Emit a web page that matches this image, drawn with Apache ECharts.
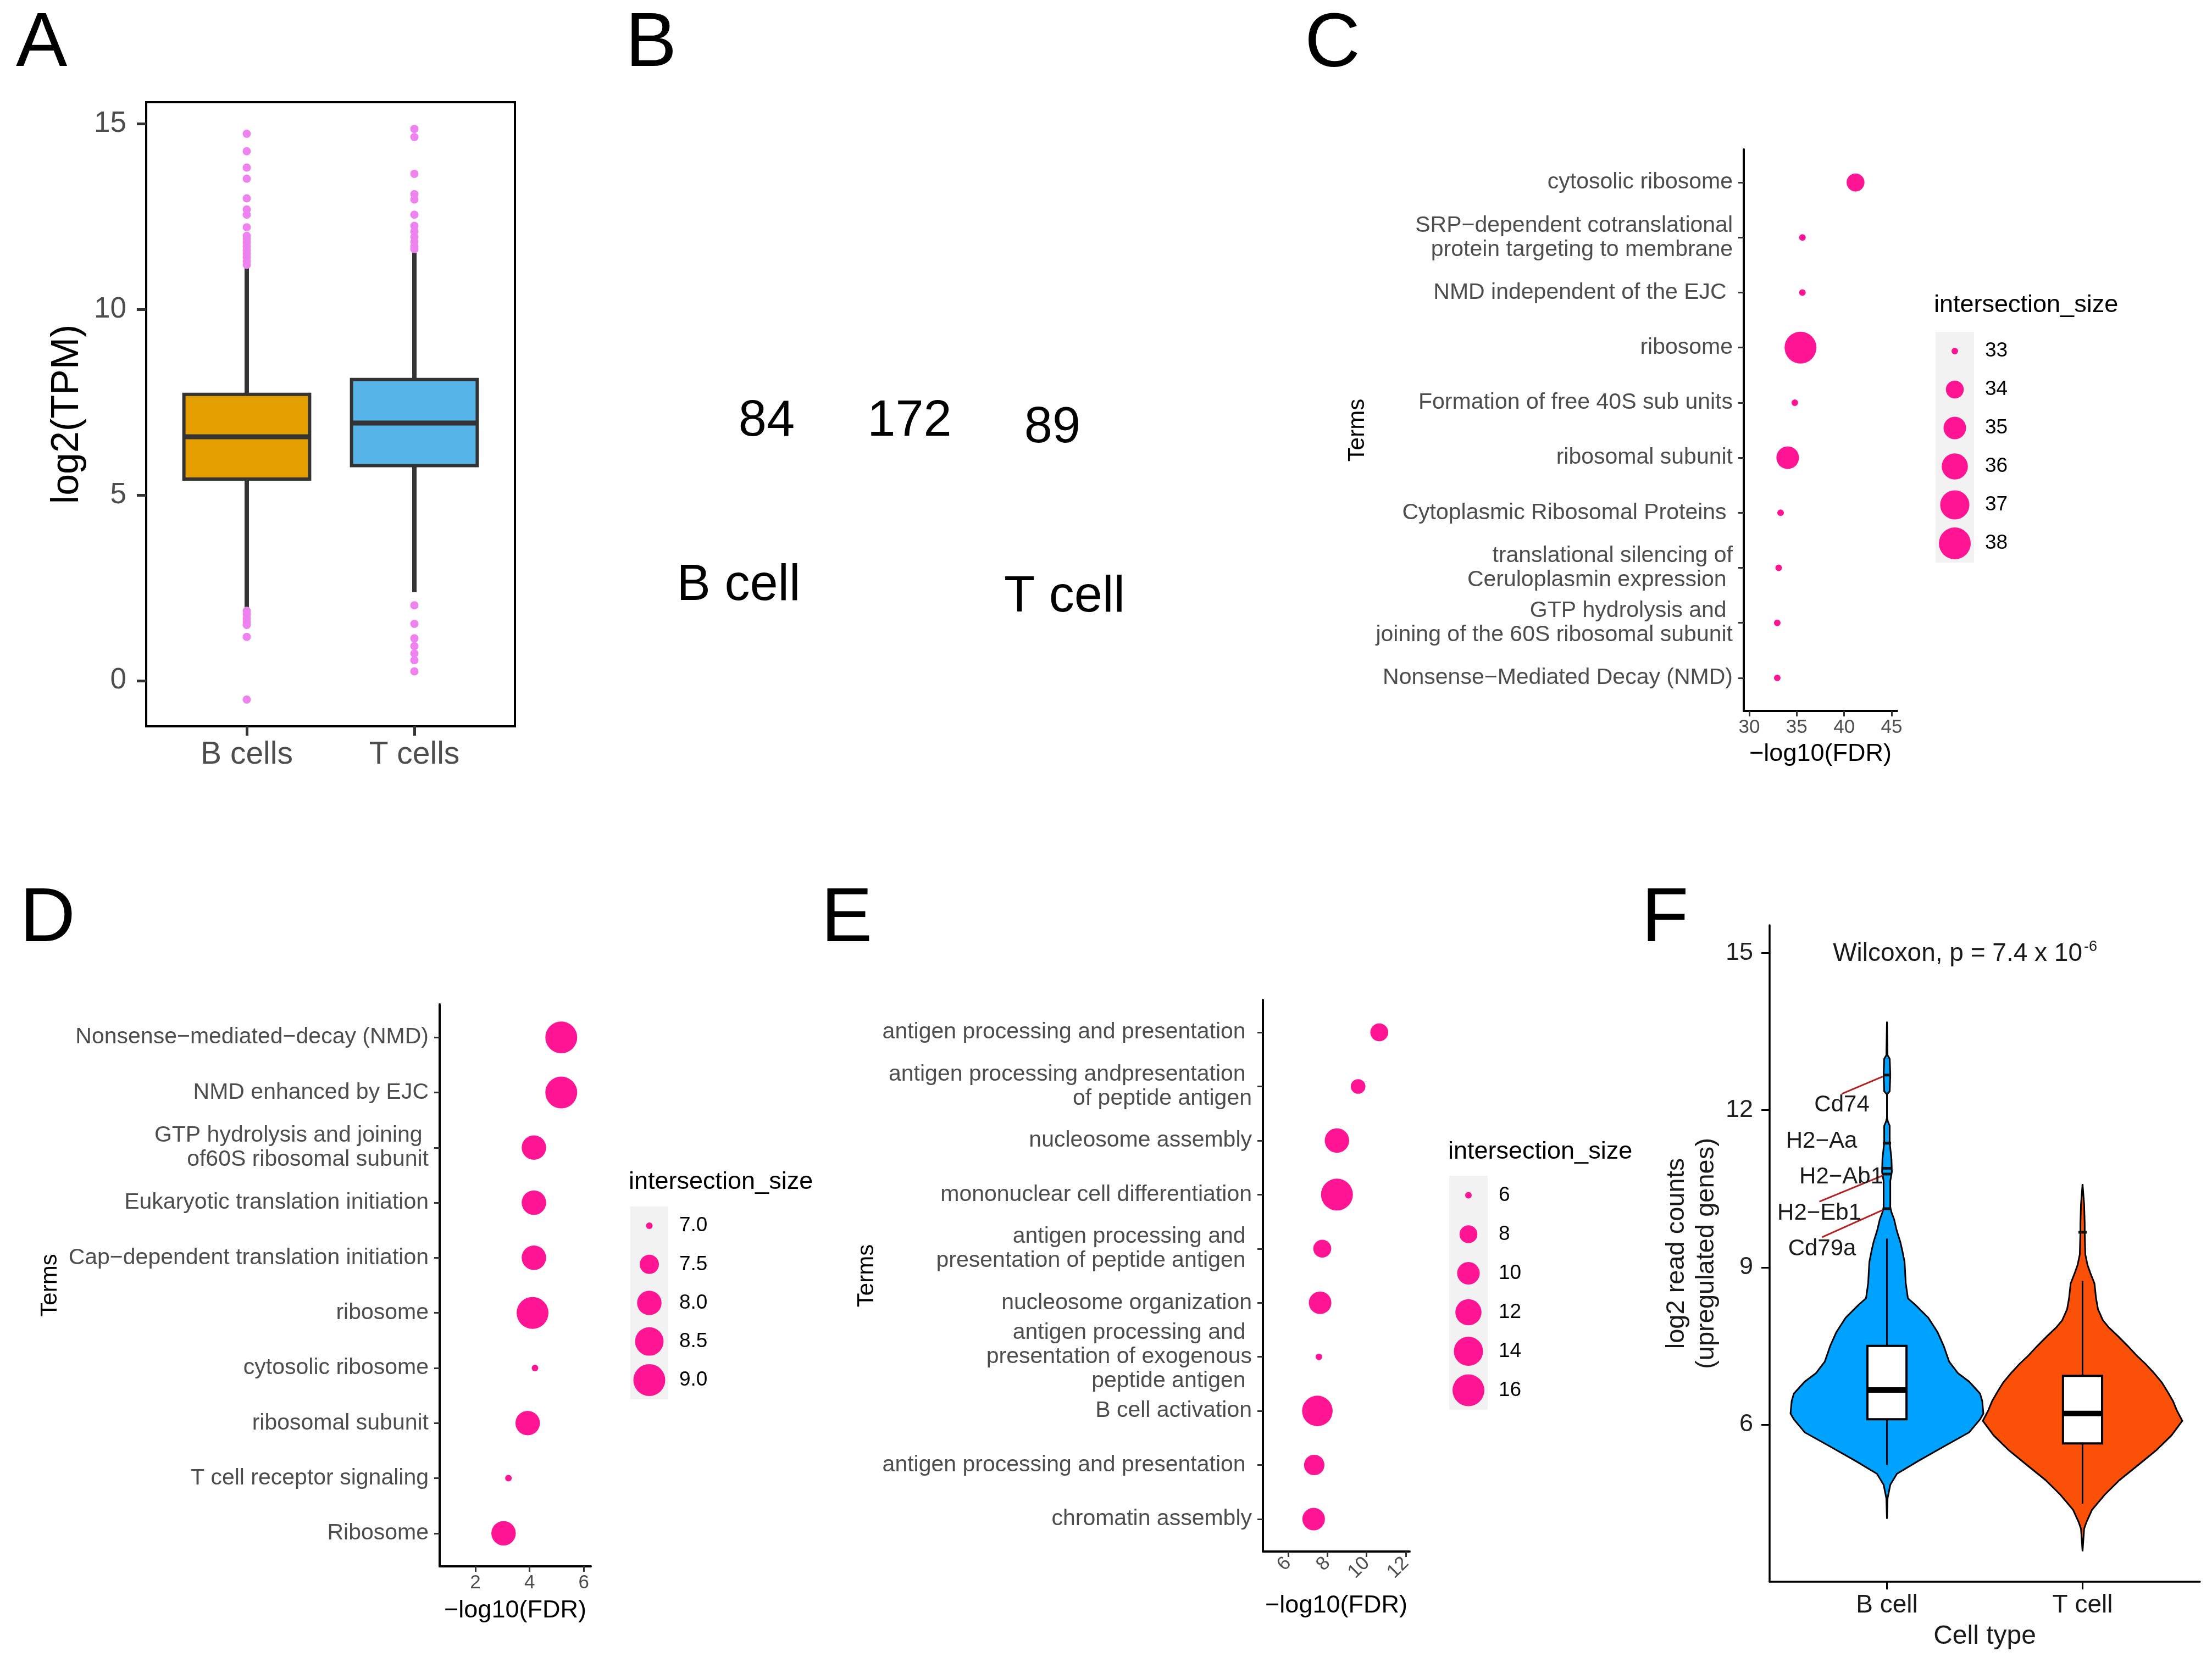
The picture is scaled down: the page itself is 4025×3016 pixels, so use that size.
<!DOCTYPE html>
<html>
<head>
<meta charset="utf-8">
<script src="https://cdn.jsdelivr.net/npm/echarts@6/dist/echarts.min.js"></script>
<style>html,body{margin:0;padding:0;background:#fff}#main{width:4025px;height:3016px}</style>
</head>
<body>
<div id="main"></div>
<script>
// ---------------- DATA ----------------
// Panel A: boxplot of log2(TPM)  [lower whisker, Q1, median, Q3, upper whisker]
const catsA = ['B cells', 'T cells'];
const boxA_B = [1.97, 5.43, 6.57, 7.71, 11.11];
const boxA_T = [2.38, 5.79, 6.94, 8.11, 11.59];
const outA_B = [14.73, 14.26, 13.82, 13.52, 12.99, 12.69, 12.55, 12.21, 11.98, 11.90, 11.80, 11.70, 11.60, 11.50, 11.40, 11.30, 11.20, 1.88, 1.78, 1.68, 1.58, 1.50, 1.18, -0.51];
const outA_T = [14.86, 14.64, 13.65, 13.10, 12.96, 12.55, 12.25, 12.10, 11.95, 11.82, 11.70, 11.62, 2.03, 1.53, 1.14, 0.93, 0.73, 0.55, 0.25];
const ticksA = [0, 5, 10, 15];

// Panel B: Venn counts
const vennRegions = ['B cell only', 'shared', 'T cell only'];
const vennCounts = [84, 172, 89];
const vennSets = ['B cell', 'T cell'];

// Panel C
const termsC = ['cytosolic ribosome', 'SRP\u2212dependent cotranslational\nprotein targeting to membrane', 'NMD independent of the EJC ', 'ribosome', 'Formation of free 40S sub units', 'ribosomal subunit', 'Cytoplasmic Ribosomal Proteins ', 'translational silencing of\nCeruloplasmin expression ', 'GTP hydrolysis and \njoining of the 60S ribosomal subunit', 'Nonsense\u2212Mediated Decay (NMD)'];
const fdrC = [41.2, 35.6, 35.6, 35.4, 34.8, 34.05, 33.3, 33.1, 32.95, 32.95];
const sizeC = [34, 33, 33, 38, 33, 35, 33, 33, 33, 33];
const keysC = [33, 34, 35, 36, 37, 38];
const ticksC = [30, 35, 40, 45];

// Panel D
const termsD = ['Nonsense\u2212mediated\u2212decay (NMD)', 'NMD enhanced by EJC', 'GTP hydrolysis and joining \nof60S ribosomal subunit', 'Eukaryotic translation initiation', 'Cap\u2212dependent translation initiation', 'ribosome', 'cytosolic ribosome', 'ribosomal subunit', 'T cell receptor signaling', 'Ribosome'];
const fdrD = [5.17, 5.17, 4.16, 4.16, 4.16, 4.11, 4.2, 3.93, 3.22, 3.04];
const sizeD = [9, 9, 8, 8, 8, 9, 7, 8, 7, 8];
const keysD = [7.0, 7.5, 8.0, 8.5, 9.0];
const ticksD = [2, 4, 6];

// Panel E
const termsE = ['antigen processing and presentation ', 'antigen processing andpresentation \nof peptide antigen', 'nucleosome assembly', 'mononuclear cell differentiation', 'antigen processing and \npresentation of peptide antigen ', 'nucleosome organization', 'antigen processing and \npresentation of exogenous\npeptide antigen ', 'B cell activation', 'antigen processing and presentation ', 'chromatin assembly'];
const fdrE = [10.65, 9.57, 8.49, 8.49, 7.74, 7.63, 7.57, 7.49, 7.33, 7.30];
const sizeE = [8, 7, 11, 16, 8, 10, 6, 15, 9, 10];
const keysE = [6, 8, 10, 12, 14, 16];
const ticksE = [6, 8, 10, 12];

// Panel F: violin profiles [value, half width in category units]
const catsF = ['B cell', 'T cell'];
const violinB = [[4.20,0],[4.59,0.003],[4.85,0.017],[5.06,0.051],[5.30,0.158],[5.58,0.290],[5.85,0.420],[6.10,0.476],[6.21,0.493],[6.45,0.487],[6.59,0.476],[6.82,0.420],[6.98,0.363],[7.20,0.318],[7.50,0.290],[7.76,0.259],[8.04,0.211],[8.28,0.146],[8.41,0.107],[8.70,0.096],[9.10,0.090],[9.31,0.079],[9.49,0.068],[9.63,0.056],[9.73,0.048],[9.91,0.037],[10.05,0.023],[10.15,0.017],[10.65,0.017],[10.82,0.025],[11.07,0.023],[11.38,0.014],[11.70,0.014],[11.77,0.006],[11.85,0],[12.30,0],[12.36,0.014],[12.67,0.017],[12.98,0.014],[13.05,0.003],[13.69,0]];
const violinT = [[3.58,0],[4.01,0.008],[4.14,0.020],[4.37,0.048],[4.66,0.113],[4.94,0.189],[5.22,0.282],[5.51,0.377],[5.79,0.454],[6.07,0.510],[6.27,0.482],[6.45,0.462],[6.63,0.434],[6.80,0.406],[6.98,0.366],[7.15,0.324],[7.32,0.276],[7.50,0.231],[7.68,0.183],[7.85,0.135],[7.99,0.104],[8.20,0.079],[8.41,0.069],[8.69,0.061],[8.90,0.039],[9.05,0.025],[9.25,0.014],[9.67,0.011],[9.83,0.011],[10.20,0.008],[10.59,0]];
const boxF_B = [5.23, 6.10, 6.66, 7.50, 9.55];
const boxF_T = [4.49, 5.64, 6.21, 6.93, 8.74];
const genesF = ['Cd74', 'H2\u2212Aa', 'H2\u2212Ab1', 'H2\u2212Eb1', 'Cd79a'];
const geneValuesF = [12.67, 11.37, 10.89, 10.78, 10.12];
const tMarkerF = [9.67];
const ticksF = [6, 9, 12, 15];

// ---------------- STYLE ----------------
const FONT = 'Liberation Sans';
const PINK = '#FF1493';
const GREY = '#4D4D4D';
const boxColorsA = ['#E69F00', '#56B4E9'];
const violinColorsF = ['#00A2FF', '#FA5008'];
const vennLabelOffsets = [[0, 0], [0, 0], [0, 12]];

const sizeScale = (v, lo, hi) => 12 + 46 * Math.sqrt((v - lo) / (hi - lo));

const chart = echarts.init(document.getElementById('main'), null, {renderer: 'canvas'});

function termYAxis(gi, terms, gap) {
  const idx = terms.map((_, i) => i + 1);
  return {
    gridIndex: gi, type: 'value', min: 0.4, max: terms.length + 0.6, inverse: true,
    axisLine: {show: true, onZero: false, lineStyle: {color: '#000', width: 4}},
    axisTick: {show: true, customValues: idx, length: 10, lineStyle: {color: '#333', width: 3}},
    axisLabel: {customValues: idx, formatter: v => terms[Math.round(v) - 1], fontSize: 41, color: GREY, margin: 20, lineHeight: 44, fontFamily: FONT},
    splitLine: {show: false},
    name: 'Terms', nameLocation: 'middle', nameGap: gap, nameMoveOverlap: false,
    nameTextStyle: {fontSize: 42, color: '#000', fontFamily: FONT}
  };
}
function fdrXAxis(gi, min, max, ticks, gap, rotate) {
  return {
    gridIndex: gi, type: 'value', min: min, max: max,
    axisLine: {show: true, onZero: false, lineStyle: {color: '#000', width: 4}},
    axisTick: {show: true, customValues: ticks, length: 10, lineStyle: {color: '#333', width: 3}},
    axisLabel: {customValues: ticks, fontSize: 35, color: GREY, margin: rotate ? 16 : 13, rotate: rotate || 0, fontFamily: FONT},
    splitLine: {show: false},
    name: '\u2212log10(FDR)', nameLocation: 'middle', nameGap: gap, nameMoveOverlap: false,
    nameTextStyle: {fontSize: 45, color: '#000', fontFamily: FONT}
  };
}
function legendXAxis(gi) { return {gridIndex: gi, type: 'value', min: 0, max: 1, show: false}; }
function legendYAxis(gi, labels) {
  return {gridIndex: gi, type: 'category', data: labels, inverse: true, position: 'right',
    axisLine: {show: false}, axisTick: {show: false}, splitLine: {show: false},
    axisLabel: {fontSize: 37, color: '#000', margin: 20, fontFamily: FONT}};
}
function dotSeries(ai, fdr, sizes) {
  const lo = Math.min(...sizes), hi = Math.max(...sizes);
  return {type: 'scatter', xAxisIndex: ai, yAxisIndex: ai, data: fdr.map((f, i) => [f, i + 1, sizes[i]]),
    symbolSize: v => sizeScale(v[2], lo, hi), itemStyle: {color: PINK, opacity: 1}, silent: true};
}
function legendSeries(ai, keys, sizes) {
  const lo = Math.min(...sizes), hi = Math.max(...sizes);
  return {type: 'scatter', xAxisIndex: ai, yAxisIndex: ai, data: keys.map((k, i) => [0.5, i, k]),
    symbolSize: v => sizeScale(v[2], lo, hi), itemStyle: {color: PINK, opacity: 1}, silent: true};
}

function renderBox(width, colors, lw) {
  return function (params, api) {
    const x = api.value(0);
    const p = [1, 2, 3, 4, 5].map(d => api.coord([x, api.value(d)]));
    const w = api.size([width, 0])[0];
    return {type: 'group', children: [
      {type: 'line', shape: {x1: p[4][0], y1: p[4][1], x2: p[3][0], y2: p[3][1]}, style: {stroke: lw.c, lineWidth: lw.whisker}},
      {type: 'line', shape: {x1: p[0][0], y1: p[0][1], x2: p[1][0], y2: p[1][1]}, style: {stroke: lw.c, lineWidth: lw.whisker}},
      {type: 'rect', shape: {x: p[3][0] - w / 2, y: p[3][1], width: w, height: p[1][1] - p[3][1]}, style: {fill: colors[params.dataIndex], stroke: lw.c, lineWidth: lw.box}},
      {type: 'line', shape: {x1: p[2][0] - w / 2, y1: p[2][1], x2: p[2][0] + w / 2, y2: p[2][1]}, style: {stroke: lw.c, lineWidth: lw.median}}
    ]};
  };
}
const violinProfiles = [violinB, violinT];
function renderViolin(params, api) {
  const cx = api.value(0);
  const prof = violinProfiles[params.dataIndex];
  const right = prof.map(d => api.coord([cx + d[1], d[0]]));
  const left = prof.slice().reverse().map(d => api.coord([cx - d[1], d[0]]));
  return {type: 'polygon', shape: {points: right.concat(left)}, style: {fill: violinColorsF[params.dataIndex], stroke: '#000', lineWidth: 3}};
}

const geneLabelShift = [[-82, 55], [-119, -3], [-83, 16], [-123, 71], [-118, 73]];

const txt = (x, y, text, size, opts) => Object.assign({type: 'text', style: Object.assign({x: x, y: y, text: text, fontSize: size, fontFamily: FONT, fill: '#000', align: 'left', verticalAlign: 'middle'}, opts || {})});

const option = {
  animation: false,
  backgroundColor: '#fff',
  textStyle: {fontFamily: FONT},
  grid: [
    {left: 266, top: 186, width: 671, height: 1136, show: true, borderColor: '#000', borderWidth: 4, backgroundColor: 'transparent', outerBoundsMode: 'none'},
    {left: 1265, top: 668, width: 780, height: 200, outerBoundsMode: 'none'},
    {left: 3173, top: 272, width: 279, height: 1022, outerBoundsMode: 'none'},
    {left: 3522, top: 604, width: 70, height: 420, show: true, backgroundColor: '#F2F2F2', borderWidth: 0, outerBoundsMode: 'none'},
    {left: 800, top: 1828, width: 275, height: 1023, outerBoundsMode: 'none'},
    {left: 1147, top: 2196, width: 69, height: 351, show: true, backgroundColor: '#F2F2F2', borderWidth: 0, outerBoundsMode: 'none'},
    {left: 2298, top: 1820, width: 267, height: 1004, outerBoundsMode: 'none'},
    {left: 2637, top: 2140, width: 70, height: 426, show: true, backgroundColor: '#F2F2F2', borderWidth: 0, outerBoundsMode: 'none'},
    {left: 3220, top: 1684, width: 783, height: 1195, outerBoundsMode: 'none'}
  ],
  xAxis: [
    {gridIndex: 0, type: 'value', min: 0.4, max: 2.6,
      axisLine: {show: false, onZero: false},
      axisTick: {show: true, customValues: [1, 2], length: 17, lineStyle: {color: '#333', width: 5}},
      axisLabel: {customValues: [1, 2], formatter: v => catsA[Math.round(v) - 1], fontSize: 57, color: GREY, margin: 24, fontFamily: FONT},
      splitLine: {show: false}},
    {gridIndex: 1, type: 'value', min: -0.5, max: 2.5, show: false},
    fdrXAxis(2, 29.42, 45.58, ticksC, 56),
    legendXAxis(3),
    fdrXAxis(4, 0.68, 6.26, ticksD, 58),
    legendXAxis(5),
    fdrXAxis(6, 4.71, 12.2, ticksE, 76, 45),
    legendXAxis(7),
    {gridIndex: 8, type: 'value', min: 0.4, max: 2.6,
      axisLine: {show: true, onZero: false, lineStyle: {color: '#000', width: 3.5}},
      axisTick: {show: true, customValues: [1, 2], length: 14, lineStyle: {color: '#000', width: 3}},
      axisLabel: {customValues: [1, 2], formatter: v => catsF[Math.round(v) - 1], fontSize: 46, color: '#1a1a1a', margin: 20, fontFamily: FONT},
      splitLine: {show: false},
      name: 'Cell type', nameLocation: 'middle', nameGap: 76, nameMoveOverlap: false,
      nameTextStyle: {fontSize: 48, color: '#1a1a1a', fontFamily: FONT}}
  ],
  yAxis: [
    {gridIndex: 0, type: 'value', min: -1.23, max: 15.58,
      axisLine: {show: false, onZero: false},
      axisTick: {show: true, customValues: ticksA, length: 17, lineStyle: {color: '#333', width: 5}},
      axisLabel: {customValues: ticksA, fontSize: 53, color: GREY, margin: 36, fontFamily: FONT},
      splitLine: {show: false},
      name: 'log2(TPM)', nameLocation: 'middle', nameGap: 108, nameMoveOverlap: false,
      nameTextStyle: {fontSize: 70, color: '#000', fontFamily: FONT}},
    {gridIndex: 1, type: 'value', min: 0, max: 1, show: false},
    termYAxis(2, termsC, 682),
    legendYAxis(3, keysC.map(String)),
    termYAxis(4, termsD, 688),
    legendYAxis(5, keysD.map(k => k.toFixed(1))),
    termYAxis(6, termsE, 700),
    legendYAxis(7, keysE.map(String)),
    {gridIndex: 8, type: 'value', min: 3.0, max: 15.53,
      axisLine: {show: true, onZero: false, lineStyle: {color: '#000', width: 3.5}},
      axisTick: {show: true, customValues: ticksF, length: 15, lineStyle: {color: '#000', width: 3}},
      axisLabel: {customValues: ticksF, fontSize: 45, color: '#222', margin: 30, fontFamily: FONT},
      splitLine: {show: false},
      name: 'log2 read counts\n(upregulated genes)', nameLocation: 'middle', nameGap: 88, nameMoveOverlap: false,
      nameTextStyle: {fontSize: 47, lineHeight: 54, color: '#1a1a1a', fontFamily: FONT}}
  ],
  series: [
    // A
    {type: 'custom', xAxisIndex: 0, yAxisIndex: 0, renderItem: renderBox(0.75, boxColorsA, {c: '#333', whisker: 8, box: 6, median: 9}),
      data: [[1].concat(boxA_B), [2].concat(boxA_T)], encode: {x: 0, y: [1, 2, 3, 4, 5]}, silent: true},
    {type: 'scatter', xAxisIndex: 0, yAxisIndex: 0, symbolSize: 15, itemStyle: {color: '#EE82EE', opacity: 1},
      data: outA_B.map(v => [1, v]).concat(outA_T.map(v => [2, v])), silent: true},
    // B
    {type: 'scatter', xAxisIndex: 1, yAxisIndex: 1, symbolSize: 1, itemStyle: {color: 'rgba(255,255,255,0)', opacity: 1},
      data: vennCounts.map((c, i) => ({name: vennRegions[i], value: [i, 0.5, c], label: {offset: vennLabelOffsets[i]}})),
      label: {show: true, position: 'inside', formatter: p => String(p.value[2]), fontSize: 92, color: '#000', opacity: 1, fontFamily: FONT}, silent: true},
    // C
    dotSeries(2, fdrC, sizeC),
    legendSeries(3, keysC, sizeC),
    // D
    dotSeries(4, fdrD, sizeD),
    legendSeries(5, keysD, sizeD),
    // E
    dotSeries(6, fdrE, sizeE),
    legendSeries(7, keysE, sizeE),
    // F
    {type: 'custom', xAxisIndex: 8, yAxisIndex: 8, renderItem: renderViolin, data: [[1, 6], [2, 6]], encode: {x: 0, y: 1}, silent: true, z: 2},
    {type: 'custom', xAxisIndex: 8, yAxisIndex: 8, renderItem: renderBox(0.2, ['#fff', '#fff'], {c: '#000', whisker: 3, box: 4, median: 10}),
      data: [[1].concat(boxF_B), [2].concat(boxF_T)], encode: {x: 0, y: [1, 2, 3, 4, 5]}, silent: true, z: 3},
    {type: 'scatter', xAxisIndex: 8, yAxisIndex: 8, symbol: 'rect', symbolSize: [15, 5], itemStyle: {color: '#111', opacity: 1}, z: 4,
      data: genesF.map((g, i) => ({name: g, value: [1, geneValuesF[i]], labelLine: {show: i === 0 || i === 3 || i === 4}}))
        .concat(tMarkerF.map(v => ({name: '', value: [2, v], label: {show: false}}))),
      label: {show: true, position: 'inside', formatter: p => p.name, fontSize: 42, color: '#1a1a1a', fontFamily: FONT},
      labelLayout: p => p.dataIndex < geneLabelShift.length ? {dx: geneLabelShift[p.dataIndex][0], dy: geneLabelShift[p.dataIndex][1]} : {},
      labelLine: {show: true, lineStyle: {color: '#B22222', width: 3}}, silent: true}
  ],
  graphic: [
    txt(29, 81, 'A', 140),
    txt(1138, 81, 'B', 140),
    txt(2374, 82, 'C', 140),
    txt(36, 1674, 'D', 140),
    txt(1494, 1674, 'E', 140),
    txt(2987, 1674, 'F', 140),
    txt(1344, 1067, vennSets[0], 92, {align: 'center'}),
    txt(1937, 1088, vennSets[1], 92, {align: 'center'}),
    txt(3519, 556, 'intersection_size', 45),
    txt(1144, 2152, 'intersection_size', 45),
    txt(2635, 2097, 'intersection_size', 45),
    txt(3789, 1736, 'Wilcoxon, p = 7.4 x 10', 46, {align: 'right', fill: '#1a1a1a'}),
    txt(3792, 1724, '-6', 27, {fill: '#1a1a1a'})
  ]
};
chart.setOption(option);
</script>
</body>
</html>
